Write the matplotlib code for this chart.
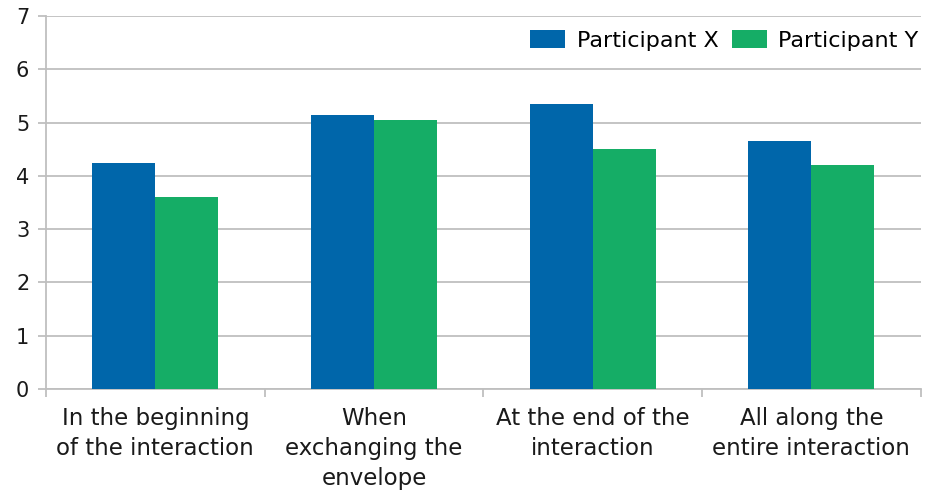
import matplotlib
matplotlib.use("Agg")
import matplotlib.pyplot as plt
import numpy as np

categories = ["In the beginning\nof the interaction",
              "When\nexchanging the\nenvelope",
              "At the end of the\ninteraction",
              "All along the\nentire interaction"]
participant_x = [4.25, 5.15, 5.35, 4.65]
participant_y = [3.6, 5.05, 4.5, 4.2]

blue = "#0066AA"
green = "#15AD66"
grid_c = "#BFBFBF"

plt.rcParams['font.family'] = ['DejaVu Sans']

fig = plt.figure(figsize=(9.3, 4.99), dpi=100)
ax = fig.add_axes([0.0495, 0.2204, 0.9405, 0.7476])

x = np.arange(len(categories))
w = 0.288
ax.bar(x - w / 2, participant_x, w, color=blue, label="Participant X", zorder=3)
ax.bar(x + w / 2, participant_y, w, color=green, label="Participant Y", zorder=3)

ax.set_xlim(-0.5, len(categories) - 0.5)
ax.set_ylim(0, 7)
ax.set_yticks(range(0, 8))
ax.yaxis.grid(True, color=grid_c, linewidth=1.3, zorder=0)

ax.set_xticks(x)
ax.set_xticklabels(categories, fontsize=16.5, color="#1a1a1a", linespacing=1.38)
ax.set_xticks(np.arange(-0.5, len(categories)), minor=True)
ax.tick_params(axis='x', which='major', length=0, pad=13)
ax.tick_params(axis='x', which='minor', length=6, color=grid_c, width=1.3)
ax.tick_params(axis='y', length=6, color=grid_c, width=1.3, labelsize=15,
               labelcolor="#1a1a1a", pad=6)

for s in ["top", "right"]:
    ax.spines[s].set_visible(False)
for s in ["left", "bottom"]:
    ax.spines[s].set_color(grid_c)
    ax.spines[s].set_linewidth(1.3)

ax.legend(loc="upper right", bbox_to_anchor=(1.014, 1.0), ncol=2, frameon=False,
          fontsize=16, handlelength=1.6, handleheight=0.85, handletextpad=0.5,
          columnspacing=0.6, borderaxespad=0.25)

fig.savefig("out.png", dpi=100)
